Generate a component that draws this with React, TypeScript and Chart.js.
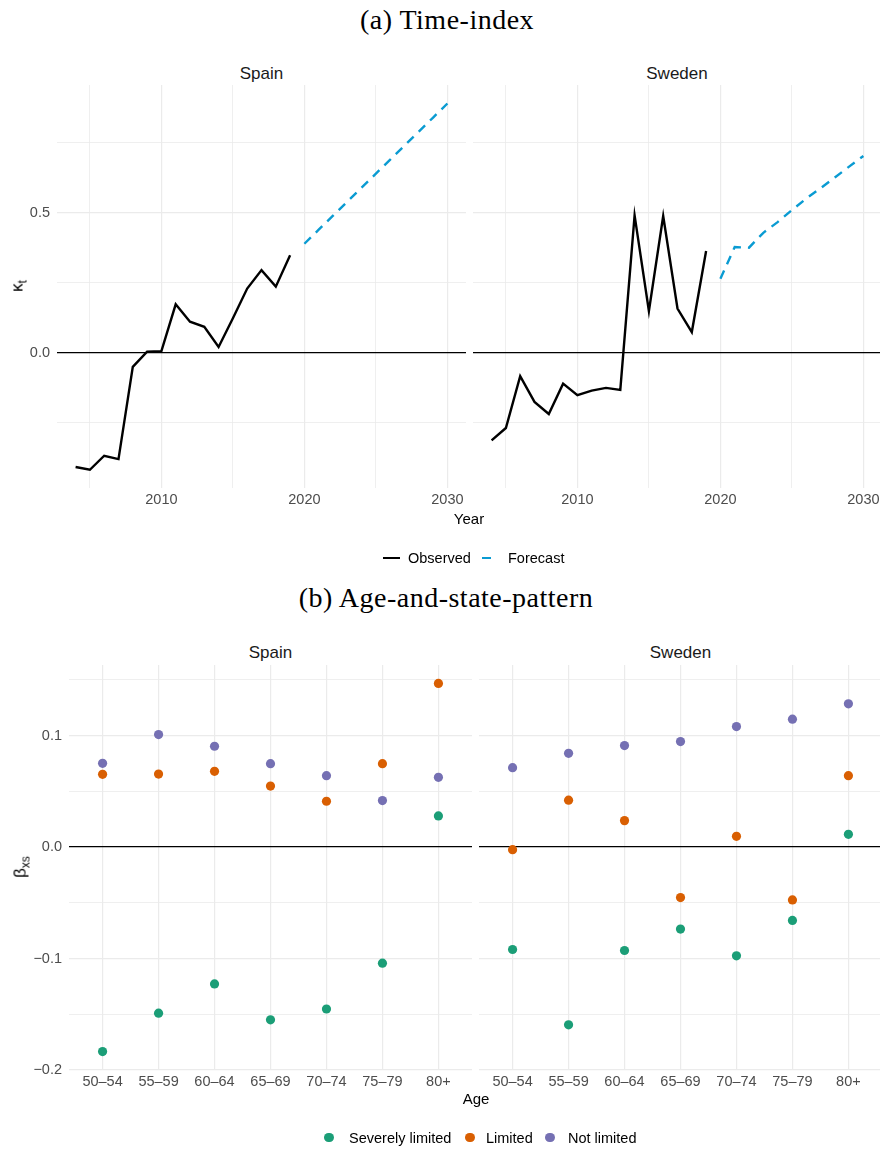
import React, { useEffect, useRef } from "react";
import { Chart, registerables } from "chart.js";

Chart.register(...registerables);

// ---------- data ----------
const OBS_YEARS = [2004, 2005, 2006, 2007, 2008, 2009, 2010, 2011, 2012, 2013, 2014, 2015, 2016, 2017, 2018, 2019];
const FORECAST_YEARS = [2020, 2021, 2022, 2023, 2024, 2025, 2026, 2027, 2028, 2029, 2030];

const SPAIN_KAPPA_OBS = [-0.407, -0.417, -0.367, -0.379, -0.05, 0.004, 0.006, 0.173, 0.111, 0.093, 0.021, 0.123, 0.229, 0.295, 0.236, 0.348];
const SPAIN_KAPPA_FC = [0.389, 0.439, 0.489, 0.539, 0.589, 0.639, 0.689, 0.739, 0.789, 0.839, 0.889];
const SWEDEN_KAPPA_OBS = [-0.312, -0.268, -0.083, -0.175, -0.218, -0.11, -0.151, -0.135, -0.125, -0.132, 0.49, 0.149, 0.488, 0.158, 0.074, 0.363];
const SWEDEN_KAPPA_FC = [0.264, 0.377, 0.375, 0.428, 0.466, 0.509, 0.55, 0.587, 0.625, 0.664, 0.702];

const AGE_GROUPS = ["50\u201354", "55\u201359", "60\u201364", "65\u201369", "70\u201374", "75\u201379", "80+"];

const SPAIN_SEVERE = [-0.1835, -0.149, -0.1228, -0.155, -0.1453, -0.1042, 0.0279];
const SPAIN_LIMITED = [0.0652, 0.0655, 0.0679, 0.0547, 0.0411, 0.0748, 0.1468];
const SPAIN_NOT = [0.0751, 0.1009, 0.0904, 0.0748, 0.064, 0.0417, 0.0625];

const SWEDEN_SEVERE = [-0.0919, -0.1595, -0.0928, -0.0736, -0.0976, -0.0658, 0.0114];
const SWEDEN_LIMITED = [-0.0024, 0.042, 0.0237, -0.0453, 0.0096, -0.0474, 0.064];
const SWEDEN_NOT = [0.0712, 0.0841, 0.091, 0.0946, 0.1081, 0.1147, 0.1285];

const YEAR_TICKS = [2005, 2010, 2015, 2020, 2025, 2030];
const YEAR_LABELS = [2010, 2020, 2030];
const KAPPA_TICKS = [-0.25, 0, 0.25, 0.5, 0.75];
const KAPPA_LABELS = [0, 0.5];
const BETA_TICKS = [-0.2, -0.15, -0.1, -0.05, 0, 0.05, 0.1, 0.15];
const BETA_LABELS = [-0.2, -0.1, 0, 0.1];

const LINE_SERIES = ["Observed", "Forecast"];
const STATE_SERIES = ["Severely limited", "Limited", "Not limited"];
const COUNTRIES = ["Spain", "Sweden"];

// ---------- styles ----------
const SANS = "'Liberation Sans', Arial, Helvetica, sans-serif";
const SERIF = "'Liberation Serif', 'Times New Roman', serif";
const BLUE = "#0A9BD2";
const STATE_COLORS = ["#1B9E77", "#D95F02", "#7570B3"];
const GRID = "#EBEBEB";
const TICK_COLOR = "#4D4D4D";

const near = (a: number, b: number) => Math.abs(a - b) < 1e-9;
const fmt = (v: number) => {
  const s = Math.abs(v).toFixed(1);
  return v < -1e-9 ? "\u2212" + s : s;
};

function gridOpts(labels: number[]) {
  return {
    drawTicks: false,
    color: (ctx: any) => (ctx.tick && near(ctx.tick.value, 0) ? "#000000" : GRID),
    lineWidth: (ctx: any) => {
      const v = ctx.tick ? ctx.tick.value : NaN;
      if (near(v, 0)) return 1.3;
      return labels.some((l) => near(l, v)) ? 1.2 : 0.8;
    },
  };
}

function yScale(ticks: number[], labels: number[], min: number, max: number, width: number, show: boolean) {
  return {
    type: "linear",
    min,
    max,
    border: { display: false },
    grid: gridOpts(labels),
    afterBuildTicks: (a: any) => {
      a.ticks = ticks.map((value) => ({ value }));
    },
    afterFit: (a: any) => {
      a.width = width;
      a.paddingTop = 0;
      a.paddingBottom = 0;
    },
    ticks: {
      display: show,
      padding: 7,
      color: TICK_COLOR,
      font: { family: SANS, size: 14.5 },
      autoSkip: false,
      callback: (v: any) => (labels.some((l) => near(l, Number(v))) ? fmt(Number(v)) : ""),
    },
  };
}

function xScale(ticks: number[], labels: number[], min: number, max: number, label: (v: number) => string) {
  return {
    type: "linear",
    min,
    max,
    border: { display: false },
    grid: {
      drawTicks: false,
      color: GRID,
      lineWidth: (ctx: any) => (ctx.tick && labels.some((l) => near(l, ctx.tick.value)) ? 1.2 : 0.8),
    },
    afterBuildTicks: (a: any) => {
      a.ticks = ticks.map((value) => ({ value }));
    },
    afterFit: (a: any) => {
      a.height = 30;
      a.paddingLeft = 0;
      a.paddingRight = 0;
    },
    ticks: {
      padding: 3,
      color: TICK_COLOR,
      font: { family: SANS, size: 14.5 },
      autoSkip: false,
      maxRotation: 0,
      minRotation: 0,
      callback: (v: any) => (labels.some((l) => near(l, Number(v))) ? label(Number(v)) : ""),
    },
  };
}

const baseOptions = {
  responsive: false,
  animation: false,
  devicePixelRatio: 1,
  events: [],
  layout: { padding: 0, autoPadding: false },
  plugins: { legend: { display: false }, tooltip: { enabled: false }, title: { display: false } },
};

function kappaConfig(obs: number[], fc: number[], yWidth: number, showY: boolean) {
  return {
    type: "line",
    data: {
      datasets: [
        {
          label: LINE_SERIES[0],
          data: OBS_YEARS.map((x, i) => ({ x, y: obs[i] })),
          borderColor: "#000000",
          borderWidth: 2.4,
          pointRadius: 0,
          tension: 0,
          fill: false,
        },
        {
          label: LINE_SERIES[1],
          data: FORECAST_YEARS.map((x, i) => ({ x, y: fc[i] })),
          borderColor: BLUE,
          borderWidth: 2.4,
          borderDash: [9, 7],
          pointRadius: 0,
          tension: 0,
          fill: false,
        },
      ],
    },
    options: {
      ...baseOptions,
      scales: {
        x: xScale(YEAR_TICKS, YEAR_LABELS, 2002.7, 2031.3, (v) => String(v)),
        y: yScale(KAPPA_TICKS, KAPPA_LABELS, -0.482, 0.955, yWidth, showY),
      },
    },
  };
}

function betaConfig(severe: number[], limited: number[], notLim: number[], yWidth: number, showY: boolean) {
  const series = [severe, limited, notLim];
  return {
    type: "scatter",
    data: {
      datasets: series
        .map((vals, k) => ({
          label: STATE_SERIES[k],
          data: vals.map((y, i) => ({ x: i, y })),
          pointRadius: 4.6,
          pointBackgroundColor: STATE_COLORS[k],
          pointBorderWidth: 0,
          showLine: false,
        }))
        .reverse(),
    },
    options: {
      ...baseOptions,
      scales: {
        x: xScale(
          AGE_GROUPS.map((_, i) => i),
          AGE_GROUPS.map((_, i) => i),
          -0.6,
          AGE_GROUPS.length - 1 + 0.6,
          (v) => AGE_GROUPS[Math.round(v)]
        ),
        y: yScale(BETA_TICKS, BETA_LABELS, -0.2, 0.1633, yWidth, showY),
      },
    },
  };
}

function ChartBox(props: { left: number; top: number; width: number; height: number; make: () => any }) {
  const ref = useRef<HTMLCanvasElement>(null);
  useEffect(() => {
    const chart = new Chart(ref.current as HTMLCanvasElement, props.make());
    return () => chart.destroy();
  }, []);
  return (
    <canvas
      ref={ref}
      width={props.width}
      height={props.height}
      style={{ position: "absolute", left: props.left, top: props.top, width: props.width, height: props.height }}
    />
  );
}

function T(props: {
  x: number;
  y: number;
  size: number;
  children: any;
  family?: string;
  color?: string;
  align?: "center" | "left";
  spacing?: number;
}) {
  const tx = props.align === "left" ? "0" : "-50%";
  return (
    <div
      style={{
        position: "absolute",
        left: props.x,
        top: props.y,
        transform: `translate(${tx}, -50%)`,
        fontFamily: props.family || SANS,
        fontSize: props.size,
        color: props.color || "#000",
        lineHeight: 1,
        whiteSpace: "nowrap",
        letterSpacing: props.spacing || 0,
      }}
    >
      {props.children}
    </div>
  );
}

export default function App() {
  return (
    <div
      style={{
        position: "fixed",
        left: 0,
        top: 0,
        width: 880,
        height: 1149,
        overflow: "hidden",
        background: "#ffffff",
      }}
    >
      {/* (a) */}
      <T x={447} y={20} size={28} family={SERIF} spacing={0.5}>(a) Time-index</T>
      <T x={261.5} y={73} size={17} color="#1A1A1A">{COUNTRIES[0]}</T>
      <T x={677} y={73} size={17} color="#1A1A1A">{COUNTRIES[1]}</T>
      <ChartBox left={0} top={85} width={466} height={433} make={() => kappaConfig(SPAIN_KAPPA_OBS, SPAIN_KAPPA_FC, 57, true)} />
      <ChartBox left={466} top={85} width={416} height={433} make={() => kappaConfig(SWEDEN_KAPPA_OBS, SWEDEN_KAPPA_FC, 7, false)} />
      <div
        style={{
          position: "absolute",
          left: 17,
          top: 286,
          transform: "translate(-50%, -50%) rotate(-90deg)",
          fontFamily: SANS,
          fontSize: 17,
          lineHeight: 1,
          whiteSpace: "nowrap",
        }}
      >
        κ<span style={{ fontSize: 12, position: "relative", top: 4 }}>t</span>
      </div>
      <T x={469} y={518} size={15}>Year</T>
      {/* legend a */}
      <div style={{ position: "absolute", left: 383, top: 556.5, width: 17, height: 2.4, background: "#000" }} />
      <T x={408} y={557.5} size={14.5} align="left">{LINE_SERIES[0]}</T>
      <div style={{ position: "absolute", left: 482, top: 556.5, width: 9, height: 2.4, background: BLUE }} />
      <T x={508} y={557.5} size={14.5} align="left">{LINE_SERIES[1]}</T>

      {/* (b) */}
      <T x={446} y={598} size={28} family={SERIF} spacing={0.5}>(b) Age-and-state-pattern</T>
      <T x={270.5} y={652} size={17} color="#1A1A1A">{COUNTRIES[0]}</T>
      <T x={680.5} y={652} size={17} color="#1A1A1A">{COUNTRIES[1]}</T>
      <ChartBox left={0} top={665} width={472} height={435} make={() => betaConfig(SPAIN_SEVERE, SPAIN_LIMITED, SPAIN_NOT, 69, true)} />
      <ChartBox left={472} top={665} width={410} height={435} make={() => betaConfig(SWEDEN_SEVERE, SWEDEN_LIMITED, SWEDEN_NOT, 7, false)} />
      <div
        style={{
          position: "absolute",
          left: 20,
          top: 867,
          transform: "translate(-50%, -50%) rotate(-90deg)",
          fontFamily: SANS,
          fontSize: 17,
          lineHeight: 1,
          whiteSpace: "nowrap",
        }}
      >
        β<span style={{ fontSize: 12, position: "relative", top: 4 }}>xs</span>
      </div>
      <T x={476} y={1098} size={15}>Age</T>
      {/* legend b */}
      {STATE_SERIES.map((name, k) => {
        const dotX = [329, 470, 550][k];
        const textX = [349, 486, 568][k];
        return (
          <React.Fragment key={name}>
            <div
              style={{
                position: "absolute",
                left: dotX - 4.6,
                top: 1137.7 - 4.6,
                width: 9.2,
                height: 9.2,
                borderRadius: "50%",
                background: STATE_COLORS[k],
              }}
            />
            <T x={textX} y={1137.7} size={14.5} align="left">{name}</T>
          </React.Fragment>
        );
      })}
    </div>
  );
}
